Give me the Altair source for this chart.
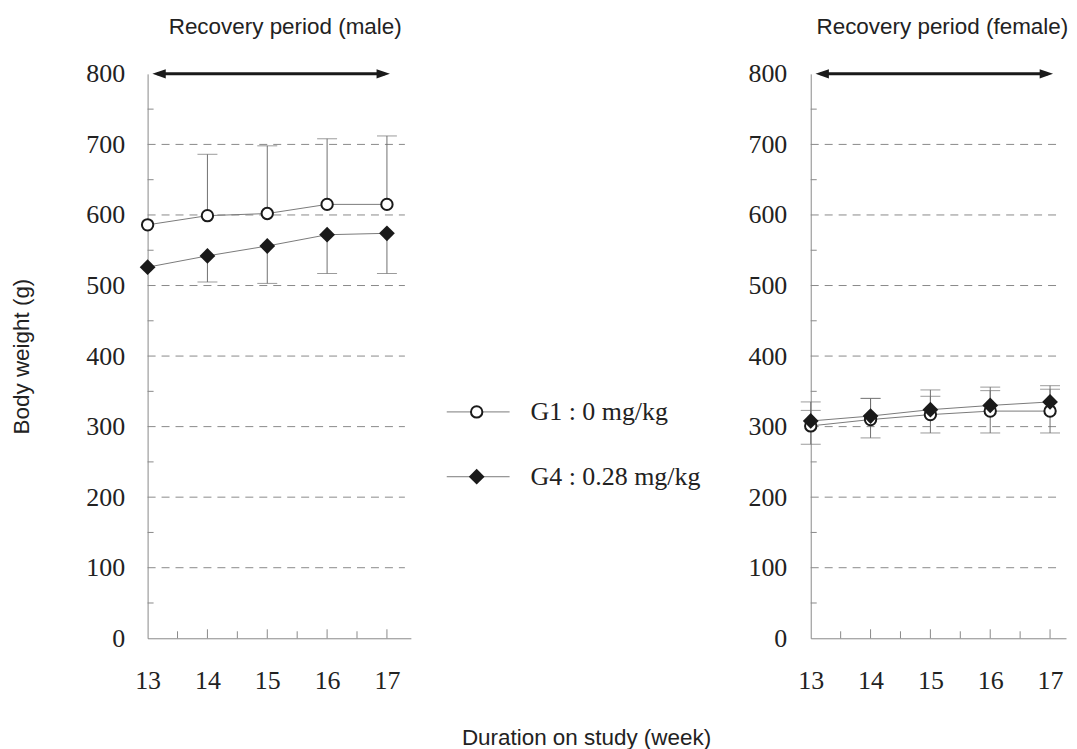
import altair as alt
import pandas as pd

# ---------------- data ----------------
weeks = [13, 14, 15, 16, 17]

male_g1 = [586, 599, 602, 615, 615]
male_g4 = [526, 542, 556, 572, 574]
male_g1_upper = [None, 686, 698, 708, 712]
male_g4_lower = [None, 505, 503, 517, 517]

female_g1 = [301, 310, 317, 322, 322]
female_g4 = [308, 315, 324, 330, 335]
female_g1_upper = [323, 340, 343, 351, 353]
female_g1_lower = [275, 284, 291, 291, 291]
female_g4_upper = [335, 340, 352, 356, 358]

y_ticks = [0, 100, 200, 300, 400, 500, 600, 700, 800]
grid_values = [100, 200, 300, 400, 500, 600, 700]
y_minor = [50, 150, 250, 350, 450, 550, 650, 750]
x_major = [14, 15, 16, 17]
x_minor = [13.5, 14.5, 15.5, 16.5]

arrow_start = 13.08
arrow_end = 17.05
arrow_level = 800

legend_labels = ["G1 : 0 mg/kg", "G4 : 0.28 mg/kg"]

# ---------------- styling ----------------
H = 566
PX_PER_WEEK = 60
SERIF = "Liberation Serif"
SANS = "Liberation Sans"
GRAY = "#8a8a8a"
INK = "#1a1a1a"
TFS = 22.5

ys = alt.Scale(domain=[0, 800], nice=False, zero=False)


def make_axes(ytitle):
    xaxis = alt.Axis(values=weeks, ticks=False, grid=False, title=None,
                     labelPadding=29, labelFont=SERIF, labelFontSize=26,
                     labelColor="#222", domainColor=GRAY, domainWidth=1,
                     labelFlush=False)
    if ytitle:
        yaxis = alt.Axis(values=y_ticks, ticks=False, grid=False, title=ytitle,
                         labelPadding=23, labelFont=SERIF, labelFontSize=26,
                         labelColor="#222", domainColor=GRAY, domainWidth=1,
                         titleFont=SANS, titleFontSize=TFS, titleFontWeight="normal",
                         titleColor="#222", titlePadding=52, labelFlush=False)
    else:
        yaxis = alt.Axis(values=y_ticks, ticks=False, grid=False, title=None,
                         labelPadding=24, labelFont=SERIF, labelFontSize=26,
                         labelColor="#222", domainColor=GRAY, domainWidth=1,
                         labelFlush=False)
    return xaxis, yaxis


left_head = "M0,0L2,-0.7L2,0.7Z"
right_head = "M0,0L-2,-0.7L-2,0.7Z"


def panel(g1, g4, errs, title, ytitle, title_dx, W):
    xaxis, yaxis = make_axes(ytitle)
    xs = alt.Scale(domain=[13, 13 + W / PX_PER_WEEK], nice=False, zero=False)

    def X(f):
        return alt.X(f, type="quantitative", scale=xs, axis=xaxis)

    def Y(f):
        return alt.Y(f, type="quantitative", scale=ys, axis=yaxis)

    pts = pd.DataFrame({"week": weeks * 2, "bw": g1 + g4,
                        "grp": ["G1"] * len(weeks) + ["G4"] * len(weeks)})
    g1_df = pts[pts.grp == "G1"]
    g4_df = pts[pts.grp == "G4"]

    rows = []
    for means, ends in errs:
        for w, m, e in zip(weeks, means, ends):
            if e is not None:
                rows.append({"week": w, "mean": m, "end": e})
    err = pd.DataFrame(rows)

    grid = alt.Chart(pd.DataFrame({"v": grid_values})).mark_rule(
        color=GRAY, strokeDash=[8, 6], strokeWidth=1
    ).encode(y=Y("v"), x=alt.value(0), x2=alt.value(W - 6))

    yminor = alt.Chart(pd.DataFrame({"v": y_minor})).mark_rule(
        color=GRAY, strokeWidth=1
    ).encode(y=Y("v"), x=alt.value(0), x2=alt.value(6))

    xmaj = alt.Chart(pd.DataFrame({"w": x_major})).mark_rule(
        color=GRAY, strokeWidth=1
    ).encode(x=X("w"), y=alt.value(H), y2=alt.value(H - 9))

    xmin = alt.Chart(pd.DataFrame({"w": x_minor})).mark_rule(
        color=GRAY, strokeWidth=1
    ).encode(x=X("w"), y=alt.value(H), y2=alt.value(H - 7))

    ebar = alt.Chart(err).mark_rule(color="#707070", strokeWidth=1).encode(
        x=X("week"), y=Y("mean"), y2="end")
    ecap = alt.Chart(err).mark_tick(orient="horizontal", size=20, thickness=1,
                                    color="#707070").encode(x=X("week"), y=Y("end"))

    lines = alt.Chart(pts).mark_line(color="#7a7a7a", strokeWidth=1).encode(
        x=X("week"), y=Y("bw"), detail="grp")

    p1 = alt.Chart(g1_df).mark_point(shape="circle", fill="white", fillOpacity=1,
                                     stroke=INK, strokeWidth=2, size=130,
                                     opacity=1).encode(x=X("week"), y=Y("bw"))
    p4 = alt.Chart(g4_df).mark_point(shape="diamond", filled=True, color=INK,
                                     size=250, opacity=1).encode(x=X("week"), y=Y("bw"))

    arr = pd.DataFrame({"s": [arrow_start], "e": [arrow_end], "lvl": [arrow_level]})
    shaft = alt.Chart(arr).mark_rule(color=INK, strokeWidth=3, xOffset=5,
                                     x2Offset=-5).encode(x=X("s"), x2="e", y=Y("lvl"))
    hl = alt.Chart(arr).mark_point(shape=left_head, filled=True, color=INK, size=180,
                                   opacity=1).encode(x=X("s"), y=Y("lvl"))
    hr = alt.Chart(arr).mark_point(shape=right_head, filled=True, color=INK, size=180,
                                   opacity=1).encode(x=X("e"), y=Y("lvl"))

    return alt.layer(grid, yminor, xmaj, xmin, ebar, ecap, lines, p1, p4,
                     shaft, hl, hr).properties(
        width=W, height=H,
        title=alt.TitleParams(title, font=SANS, fontSize=TFS, fontWeight="normal",
                              color="#222", anchor="middle", frame="group",
                              offset=22, dx=title_dx))


left = panel(male_g1, male_g4,
             [(male_g1, male_g1_upper), (male_g4, male_g4_lower)],
             "Recovery period (male)", "Body weight (g)", 6, 264)
right = panel(female_g1, female_g4,
              [(female_g1, female_g1_upper), (female_g1, female_g1_lower),
               (female_g4, female_g4_upper)],
              "Recovery period (female)", None, 4, 256)

# ---------------- legend panel ----------------
LW = 338
leg = pd.DataFrame({"label": legend_labels})
ly = alt.Y("label:N", sort=legend_labels, axis=None,
           scale=alt.Scale(type="point", domain=legend_labels, range=[339, 404], padding=0))
leg_line = alt.Chart(leg).mark_rule(color="#7a7a7a", strokeWidth=1).encode(
    y=ly, x=alt.value(36), x2=alt.value(99))
leg_c = alt.Chart(leg[leg.label == legend_labels[0]]).mark_point(
    shape="circle", fill="white", fillOpacity=1, stroke=INK, strokeWidth=2, size=130,
    opacity=1).encode(y=ly, x=alt.value(66))
leg_d = alt.Chart(leg[leg.label == legend_labels[1]]).mark_point(
    shape="diamond", filled=True, color=INK, size=250, opacity=1).encode(
    y=ly, x=alt.value(66))
leg_t = alt.Chart(leg).mark_text(align="left", baseline="middle", font=SERIF,
                                 fontSize=26, color="#222").encode(
    y=ly, x=alt.value(120), text="label:N")
legend_panel = alt.layer(leg_line, leg_c, leg_d, leg_t).properties(
    width=LW, height=H,
    title=alt.TitleParams(" ", font=SANS, fontSize=TFS, offset=22))

chart = alt.hconcat(left, legend_panel, right, spacing=0).properties(
    padding={"left": 3, "top": 7, "right": 0, "bottom": 0},
    title=alt.TitleParams("Duration on study (week)", orient="bottom", anchor="middle",
                          font=SANS, fontSize=TFS, fontWeight="normal", color="#222",
                          offset=34, dx=47)
).configure_view(stroke=None)

chart.save("out.html", embed_options={"renderer": "svg", "actions": False})
